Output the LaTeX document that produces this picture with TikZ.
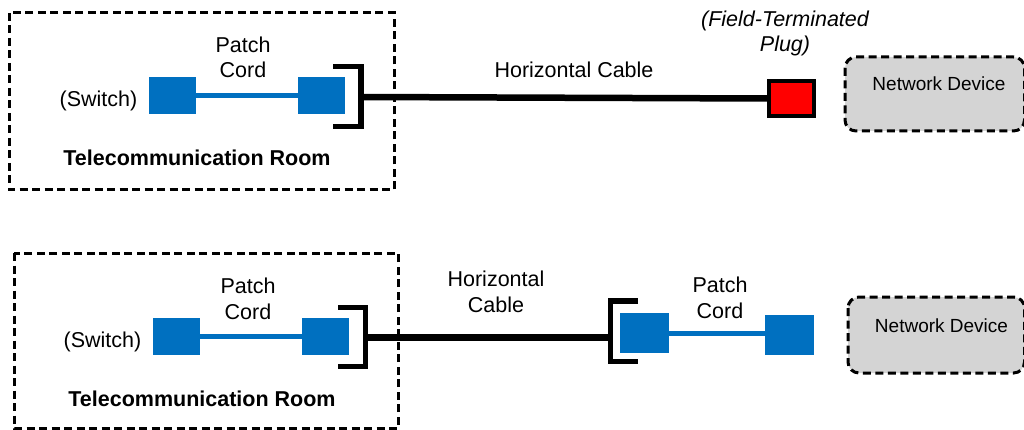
\documentclass[tikz,border=0pt]{standalone}
\usepackage{fontspec}
\setmainfont{Liberation Sans}
\definecolor{cblue}{HTML}{0070C0}
\definecolor{devgray}{HTML}{D4D4D4}
\definecolor{plugred}{HTML}{FF0000}
\begin{document}
\begin{tikzpicture}[x=1pt,y=-1pt,
  txt/.style={font=\fontsize{21.5}{25.5}\selectfont, inner sep=0pt, align=center, anchor=base},
  bold/.style={txt, font=\fontsize{21.5}{25.5}\selectfont\bfseries},
  devtxt/.style={font=\fontsize{19}{23}\selectfont, inner sep=0pt, anchor=base},
  room/.style={draw=black, line width=3pt, dash pattern=on 8pt off 4.5pt},
  device/.style={draw=black, fill=devgray, line width=3pt, dash pattern=on 8pt off 4.5pt, rounded corners=11pt},
  jack/.style={fill=cblue, draw=none, inner sep=0pt, minimum width=47pt, minimum height=37pt},
  cord/.style={draw=cblue, line width=5pt},
  cable/.style={draw=black, line width=6.5pt},
  bracketline/.style={draw=black, line width=5.5pt, line join=miter},
  plug/.style={draw=black, fill=plugred, line width=4pt, inner sep=0pt, minimum width=45pt, minimum height=35pt}]
\useasboundingbox (0,0) rectangle (1024,430);

% ---------- top row ----------
\draw[room] (9,13) rectangle (394,190);
\node[jack] (sw1) at (172.5,95.5) {};
\node[jack] (pp1) at (321.5,95.5) {};
\draw[cord] (sw1.east) -- (pp1.west);
\node[txt] (pc1) at (243,78) {Patch\\Cord};
\node[txt] (swl1) at (98.5,107) {(Switch)};
\node[bold] (tr1) at (197,166) {Telecommunication Room};
\coordinate (b1) at (361,97);
\draw[bracketline] (333,66.5) -- (361,66.5) -- (361,126.5) -- (333,126.5);
\node[plug] (fp) at (791.5,98.5) {};
\draw[cable] (b1) -- (fp.west);
\node[txt] (hc1) at (574,78) {Horizontal Cable};
\node[txt, font=\fontsize{21.5}{25.5}\selectfont\itshape] (ftp) at (785,52) {(Field-Terminated\\Plug)};
\draw[device] (845,57) rectangle (1024.5,131);
\node[devtxt] (nd1) at (939,90.5) {Network Device};

% ---------- bottom row ----------
\draw[room] (14,253) rectangle (398,428);
\node[jack] (sw2) at (176.5,336.5) {};
\node[jack] (pp2) at (325.5,336.5) {};
\draw[cord] (sw2.east) -- (pp2.west);
\node[txt] (pc2) at (248,319) {Patch\\Cord};
\node[txt] (swl2) at (102.5,347) {(Switch)};
\node[bold] (tr2) at (202,406) {Telecommunication Room};
\coordinate (b2) at (365.5,337.5);
\coordinate (b3) at (610.5,337.5);
\draw[bracketline] (338,307.5) -- (365.5,307.5) -- (365.5,366.5) -- (338,366.5);
\draw[bracketline] (638,301) -- (610.5,301) -- (610.5,361.5) -- (638,361.5);
\draw[cable] (b2) -- (b3);
\node[txt] (hc2) at (496,312) {Horizontal\\Cable};
\node[jack, minimum width=49pt, minimum height=40pt] (pp3) at (644.5,333) {};
\node[jack, minimum width=49pt, minimum height=40pt] (pp4) at (789.5,335) {};
\draw[cord] (pp3.east |- 0,333) -- (pp4.west |- 0,333);
\node[txt] (pc3) at (720,318) {Patch\\Cord};
\draw[device] (848,297) rectangle (1024.5,373);
\node[devtxt] (nd2) at (941.5,332) {Network Device};
\end{tikzpicture}
\end{document}
